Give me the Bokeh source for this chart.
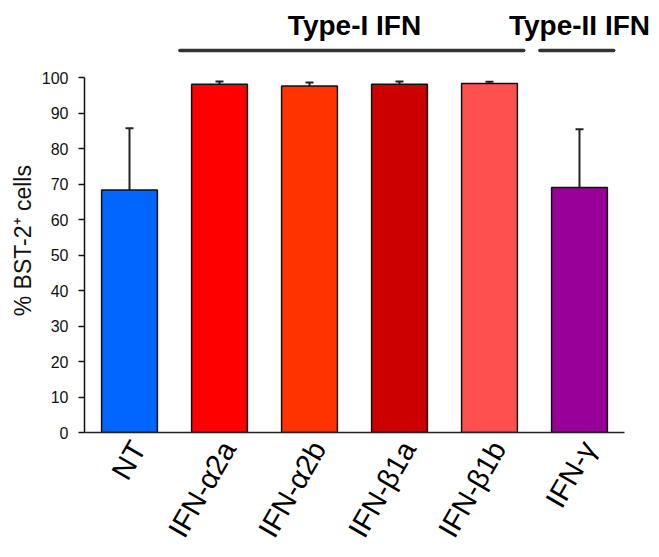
import numpy as np
from bokeh.plotting import figure
from bokeh.models import Range1d, FixedTicker, Whisker, TeeHead, ColumnDataSource
from bokeh.core.properties import value
from bokeh.embed import file_html
from bokeh.resources import INLINE

categories = ["NT", "IFN-α2a", "IFN-α2b", "IFN-β1a", "IFN-β1b", "IFN-γ"]
means = [68.4, 98.2, 97.7, 98.2, 98.4, 69.1]
sds = [17.4, 0.8, 1.0, 0.8, 0.5, 16.4]
colors = ["#0066FF", "#FF0000", "#FF3300", "#CC0000", "#FF5050", "#990099"]
y_ticks = [0, 10, 20, 30, 40, 50, 60, 70, 80, 90, 100]
y_title = "% BST-2⁺ cells"

groups = ["Type-I IFN", "Type-II IFN"]
group_first = ["IFN-α2a", "IFN-γ"]
group_last = ["IFN-β1b", "IFN-γ"]

FONT = "Liberation Sans"

centers = np.arange(len(categories)) + 0.5
src = ColumnDataSource(dict(
    x=centers, top=means, upper=np.array(means) + np.array(sds), color=colors))

p = figure(width=659, height=557, output_backend="svg", toolbar_location=None,
           x_range=Range1d(0, 6.389), y_range=Range1d(0, 119),
           min_border_left=84, min_border_right=0, min_border_top=10, min_border_bottom=125)
p.outline_line_color = None
p.grid.visible = False
p.background_fill_color = "white"

p.vbar(x="x", top="top", width=0.62, bottom=0, fill_color="color",
       line_color="#111111", line_width=1.5, source=src)

wh = Whisker(base="x", lower="top", upper="upper", source=src,
             line_color="#222222", line_width=2,
             upper_head=TeeHead(size=8, line_color="#222222", line_width=2),
             lower_head=None)
p.add_layout(wh)

# group brackets
idx = {c: i for i, c in enumerate(categories)}
gx = [(centers[idx[f]] + centers[idx[l]]) / 2 for f, l in zip(group_first, group_last)]
gx0 = [centers[idx[f]] - 0.44 for f in group_first]
gx1 = [centers[idx[l]] + 0.38 for l in group_last]
p.segment(x0=gx0, x1=gx1, y0=[107.7] * 2, y1=[107.7] * 2,
          line_color="#333333", line_width=3.5, line_cap="round")
p.text(x=gx, y=[114.8] * 2, text=groups, text_font=value(FONT),
       text_font_style="bold", text_font_size="28px", text_align="center",
       text_baseline="middle", text_color="black")

# y axis
ya = p.yaxis[0]
ya.bounds = (0, 100)
ya.ticker = FixedTicker(ticks=y_ticks)
ya.minor_tick_line_color = None
ya.major_tick_in = 0
ya.major_tick_out = 6
ya.major_tick_line_width = 1.5
ya.axis_line_width = 1.5
ya.axis_line_color = "#111111"
ya.major_tick_line_color = "#111111"
ya.major_label_text_font = FONT
ya.major_label_text_font_size = "16px"
ya.major_label_text_color = "#111111"
ya.major_label_standoff = 10
ya.axis_label = y_title + "\u00a0" * 6
ya.axis_label_text_font = FONT
ya.axis_label_text_font_size = "23px"
ya.axis_label_text_font_style = "normal"
ya.axis_label_text_color = "#111111"
ya.axis_label_standoff = 3

# x axis
xa = p.xaxis[0]
xa.bounds = (0, 6)
xa.ticker = FixedTicker(ticks=list(centers + 0.1))
xa.major_label_overrides = {float(c + 0.1): lab for c, lab in zip(centers, categories)}
xa.minor_tick_line_color = None
xa.major_tick_line_color = None
xa.major_tick_out = 0
xa.major_tick_in = 0
xa.axis_line_width = 1.5
xa.axis_line_color = "#222222"
xa.major_label_orientation = np.deg2rad(60)
xa.major_label_text_font = FONT
xa.major_label_text_font_size = "29px"
xa.major_label_text_color = "black"
xa.major_label_standoff = 11

open("out.html", "w").write(file_html(p, INLINE))
